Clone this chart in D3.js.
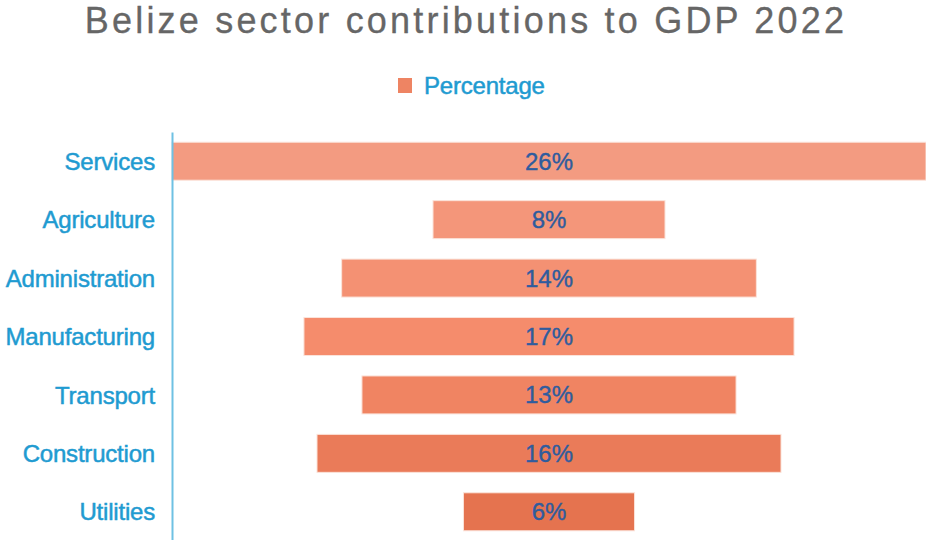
<!DOCTYPE html>
<html lang="en">
<head>
<meta charset="UTF-8">
<title>Belize sector contributions to GDP 2022</title>
<script src="https://d3js.org/d3.v7.min.js"></script>
<style>
    body { margin: 0; background: #fff; }
    text { font-family: "Liberation Sans", Arial, sans-serif; }
    .title { font-size: 36px; fill: #666; stroke: #666; stroke-width: 0.3px; letter-spacing: 3.2px; text-anchor: middle; }
    .cat { font-size: 24px; fill: #1f9bd1; stroke: #1f9bd1; stroke-width: 0.5px; letter-spacing: -0.2px; text-anchor: end; }
    .val { font-size: 24px; fill: #2f5c9e; stroke: #2f5c9e; stroke-width: 0.4px; text-anchor: middle; }
    .legend-text { font-size: 24px; fill: #1f9bd1; stroke: #1f9bd1; stroke-width: 0.5px; letter-spacing: -0.2px; }
</style>
</head>
<body>
<div id="chart"></div>
<script>
    const categories = ["Services", "Agriculture", "Administration", "Manufacturing", "Transport", "Construction", "Utilities"];
    const values = [26, 8, 14.3, 16.9, 12.9, 16, 5.9];
    const seriesName = "Percentage";

    const W = 926, H = 540;
    const margin = { top: 132, right: 0, bottom: -1, left: 172 };

    const svg = d3.select("#chart").append("svg")
        .attr("width", W)
        .attr("height", H);

    const maxVal = d3.max(values);
    // centered (funnel) bars: half the value on each side of the middle
    const x = d3.scaleLinear()
        .domain([-maxVal / 2, maxVal / 2])
        .range([margin.left, W - margin.right]);

    const y = d3.scaleBand()
        .domain(categories)
        .range([margin.top, H - margin.bottom])
        .paddingInner(0.35)
        .paddingOuter(0.175);

    const color = d3.scaleLinear()
        .domain([0, 3, categories.length - 1])
        .range(["#f39b81", "#f58c6c", "#e5734f"]);

    const fmt = d => Math.round(d) + "%";

    // title
    svg.append("text")
        .attr("class", "title")
        .attr("x", 466)
        .attr("y", 33)
        .text("Belize sector contributions to GDP 2022");

    // legend
    const legend = svg.append("g").attr("transform", "translate(398, 78)");
    legend.append("rect")
        .attr("width", 14)
        .attr("height", 15)
        .attr("fill", "#ee8463");
    legend.append("text")
        .attr("class", "legend-text")
        .attr("x", 26)
        .attr("y", 15.5)
        .text(seriesName);

    // bars
    svg.selectAll(".bar")
        .data(values)
        .join("rect")
        .attr("class", "bar")
        .attr("x", d => x(-d / 2))
        .attr("y", (d, i) => y(categories[i]))
        .attr("width", d => x(d / 2) - x(-d / 2))
        .attr("height", y.bandwidth())
        .attr("fill", (d, i) => color(i))
        .attr("stroke", "#fbe3da")
        .attr("stroke-width", 1);

    // value labels
    svg.selectAll(".val")
        .data(values)
        .join("text")
        .attr("class", "val")
        .attr("x", x(0))
        .attr("y", (d, i) => y(categories[i]) + y.bandwidth() / 2 + 8.5)
        .text(fmt);

    // category axis
    const yAxis = d3.axisLeft(y).tickSize(0).tickPadding(17);
    const axisG = svg.append("g")
        .attr("transform", `translate(${margin.left},0)`)
        .call(yAxis);
    axisG.select(".domain")
        .attr("stroke", "#6fc1e3")
        .attr("stroke-width", 2);
    axisG.selectAll(".tick text")
        .attr("class", "cat")
        .attr("fill", null)
        .attr("font-size", null)
        .attr("font-family", null)
        .attr("dy", "0.36em");
</script>
</body>
</html>
